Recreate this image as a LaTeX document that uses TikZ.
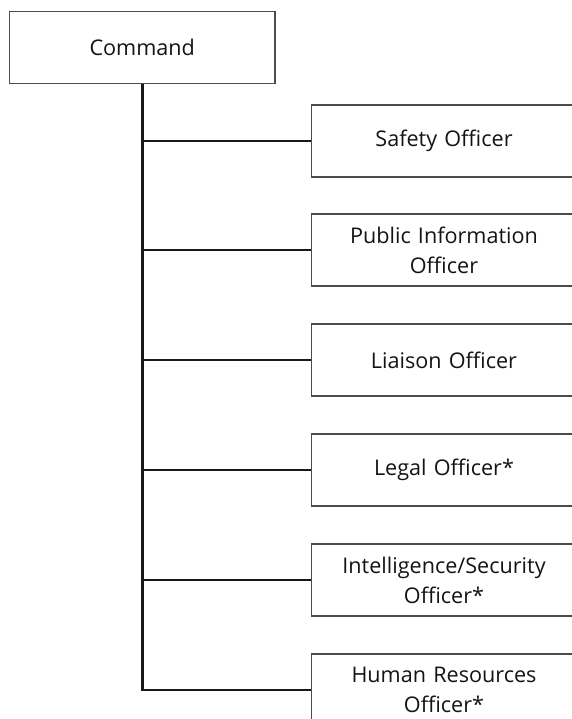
\documentclass[tikz,border=0pt]{standalone}
\usepackage{fontspec}
\setmainfont{Open Sans}
\begin{document}
\begin{tikzpicture}[x=0.75pt,y=-0.75pt,
  unit/.style={draw=black!70, line width=1.1pt, fill=white,
    minimum width=265.5*0.75pt, minimum height=72*0.75pt,
    text width=255*0.75pt, align=center, inner sep=0pt,
    text=black!92, font=\fontsize{16.2pt}{22.5pt}\selectfont},
  trunk/.style={draw=black!90, line width=2.3pt},
  branch/.style={draw=black!90, line width=2pt}]
\useasboundingbox (0,0) rectangle (572,719);
\clip (0,0) rectangle (572,719);
% command box
\node[unit] (cmd) at (142.25,47.5) {Command};
% staff positions
\node[unit] (s1) at (444,141) {Safety Officer};
\node[unit] (s2) at (444,250) {Public Information\\Officer};
\node[unit] (s3) at (444,360) {Liaison Officer};
\node[unit] (s4) at (444,470) {Legal Officer*};
\node[unit] (s5) at (444,580) {Intelligence/Security\\Officer*};
\node[unit] (s6) at (444,690) {Human Resources\\Officer*};
% connectors
\draw[trunk] (cmd.south) -- ([yshift=0.9pt]cmd.south |- s6.west);
\foreach \n in {s1,s2,s3,s4,s5,s6}
  \draw[branch] ([xshift=-1pt]cmd.south |- \n.west) -- (\n.west);
\end{tikzpicture}
\end{document}
